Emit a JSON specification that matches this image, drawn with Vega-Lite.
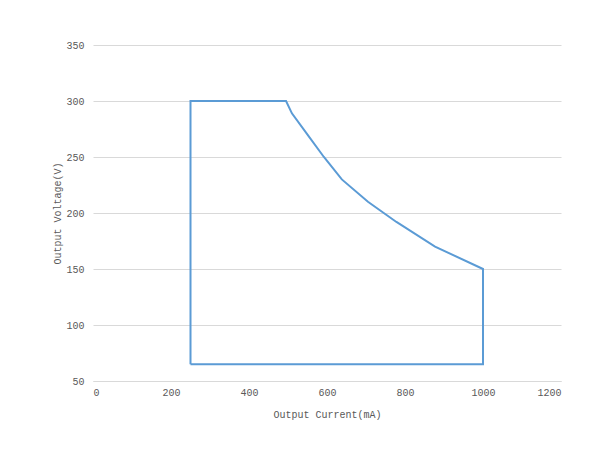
{
  "$schema": "https://vega.github.io/schema/vega-lite/v6.json",
  "width": 468,
  "height": 336,
  "autosize": {"type": "none"},
  "padding": {"left": 93, "top": 45, "right": 47, "bottom": 78},
  "background": "white",
  "config": {"view": {"stroke": null}},
  "data": {"values": [
    {"i": 1, "current": 250, "voltage": 65},
    {"i": 2, "current": 250, "voltage": 300},
    {"i": 3, "current": 495, "voltage": 300},
    {"i": 4, "current": 510, "voltage": 289},
    {"i": 5, "current": 550, "voltage": 270},
    {"i": 6, "current": 592, "voltage": 250},
    {"i": 7, "current": 638, "voltage": 230},
    {"i": 8, "current": 705, "voltage": 210},
    {"i": 9, "current": 778, "voltage": 192},
    {"i": 10, "current": 877, "voltage": 170},
    {"i": 11, "current": 1000, "voltage": 150},
    {"i": 12, "current": 1000, "voltage": 65},
    {"i": 13, "current": 250, "voltage": 65}
  ]},
  "mark": {"type": "line", "color": "#5B9BD5", "strokeWidth": 2, "strokeJoin": "miter"},
  "encoding": {
    "order": {"field": "i", "type": "quantitative"},
    "x": {
      "field": "current", "type": "quantitative",
      "scale": {"domain": [0, 1200], "nice": false, "zero": false},
      "axis": {
        "title": "Output Current(mA)", "values": [0, 200, 400, 600, 800, 1000, 1200], "format": "d",
        "grid": false, "ticks": false, "domainColor": "#d9d9d9", "domainWidth": 1,
        "labelFont": "Liberation Mono", "labelFontSize": 10, "labelColor": "#595959", "labelPadding": 6,
        "titleFont": "Liberation Mono", "titleFontSize": 10, "titleFontWeight": "normal", "titleColor": "#595959", "titlePadding": 12
      }
    },
    "y": {
      "field": "voltage", "type": "quantitative",
      "scale": {"domain": [50, 350], "nice": false, "zero": false},
      "axis": {
        "title": "Output Voltage(V)", "values": [50, 100, 150, 200, 250, 300, 350], "format": "d",
        "grid": true, "gridColor": "#d9d9d9", "gridWidth": 1,
        "ticks": false, "domain": false,
        "labelFont": "Liberation Mono", "labelFontSize": 10, "labelColor": "#595959", "labelPadding": 9,
        "titleFont": "Liberation Mono", "titleFontSize": 10, "titleFontWeight": "normal", "titleColor": "#595959", "titlePadding": 3
      }
    }
  }
}
